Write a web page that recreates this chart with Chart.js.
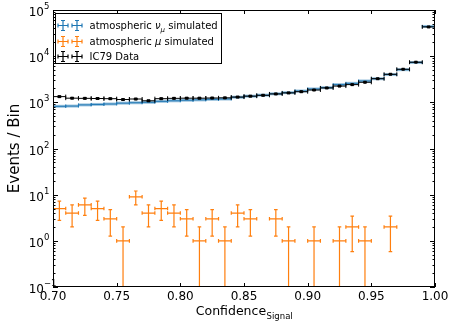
<!DOCTYPE html>
<html>
<head>
<meta charset="utf-8">
<script src="https://cdn.jsdelivr.net/npm/chart.js@4.4.0/dist/chart.umd.min.js"></script>
<style>
  html, body { margin: 0; padding: 0; background: #fff; }
</style>
</head>
<body>
<canvas id="c" width="449" height="324"></canvas>
<script>
// --- data (bin width 0.01) ---
const binCenters = [0.705, 0.715, 0.725, 0.735, 0.745, 0.755, 0.765, 0.775, 0.785, 0.795,
                    0.805, 0.815, 0.825, 0.835, 0.845, 0.855, 0.865, 0.875, 0.885, 0.895,
                    0.905, 0.915, 0.925, 0.935, 0.945, 0.955, 0.965, 0.975, 0.985, 0.995];
const binHalfWidth = 0.005;

const nuMuSim = [820, 830, 880, 900, 920, 960, 980, 1000, 1050, 1080,
                 1110, 1130, 1160, 1180, 1290, 1360, 1430, 1530, 1620, 1760,
                 1950, 2080, 2420, 2580, 2900, 3250, 4000, 5100, 7300, 44000];
const muSim = [5, 4, 6, 5, 3, 1, 9, 4, 5, 4,
               3, 1, 3, 1, 4, 3, null, 3, 1, null,
               1, null, 1, 2, 1, null, 2, null, null, null];
const ic79Data = [1330, 1230, 1220, 1210, 1200, 1150, 1180, 1080, 1200, 1220,
                  1230, 1230, 1240, 1250, 1300, 1360, 1420, 1520, 1600, 1700,
                  1850, 2050, 2250, 2420, 2720, 3250, 4050, 5200, 7400, 43000];

const xTicks = [0.70, 0.75, 0.80, 0.85, 0.90, 0.95, 1.00];
const yTickExps = [-1, 0, 1, 2, 3, 4, 5];

const FONT = 'DejaVu Sans';
const toPoints = vals => binCenters.map((x, i) => ({ x: x, y: vals[i] }));

// error bars drawn per dataset with the chart's own scales
const errorBars = {
  id: 'errorBars',
  afterDatasetDraw(chart, args) {
    const ds = chart.data.datasets[args.index];
    const xs = chart.scales.x, ys = chart.scales.y;
    const ctx = chart.ctx, a = chart.chartArea;
    ctx.save();
    ctx.beginPath();
    ctx.rect(a.left, a.top, a.right - a.left, a.bottom - a.top);
    ctx.clip();
    ds.data.forEach(p => {
      if (p.y == null) return;
      const x0 = xs.getPixelForValue(p.x - binHalfWidth);
      const x1 = xs.getPixelForValue(p.x + binHalfWidth);
      const px = xs.getPixelForValue(p.x);
      const py = ys.getPixelForValue(p.y);
      const cap = ds.capSize;
      if (ds.band) {
        ctx.strokeStyle = ds.band;
        ctx.lineWidth = 3;
        ctx.beginPath(); ctx.moveTo(x0, py); ctx.lineTo(x1, py); ctx.stroke();
      }
      ctx.strokeStyle = ds.errColor;
      ctx.lineWidth = ds.errWidth;
      ctx.beginPath();
      ctx.moveTo(x0, py); ctx.lineTo(x1, py);
      ctx.moveTo(x0, py - cap); ctx.lineTo(x0, py + cap);
      ctx.moveTo(x1, py - cap); ctx.lineTo(x1, py + cap);
      if (ds.poisson) {
        const e = Math.sqrt(p.y);
        const top = ys.getPixelForValue(p.y + e);
        const lo = p.y - e;
        const bot = lo > 0 ? ys.getPixelForValue(lo) : a.bottom + 5;
        ctx.moveTo(px, top); ctx.lineTo(px, bot);
        ctx.moveTo(px - cap, top); ctx.lineTo(px + cap, top);
        ctx.moveTo(px - cap, bot); ctx.lineTo(px + cap, bot);
      }
      ctx.stroke();
      if (ds.marker) {
        ctx.fillStyle = ds.errColor;
        ctx.fillRect(px - 1.5, py - 1.5, 3, 3);
      }
    });
    ctx.restore();
  }
};

// frame, inward ticks, y labels, x title, legend
const decorations = {
  id: 'decorations',
  afterDraw(chart) {
    const ctx = chart.ctx, a = chart.chartArea;
    const xs = chart.scales.x, ys = chart.scales.y;
    ctx.save();
    ctx.strokeStyle = '#000';
    ctx.lineWidth = 1;
    ctx.strokeRect(a.left + 0.5, a.top + 0.5, a.right - a.left - 1, a.bottom - a.top - 1);
    ctx.beginPath();
    xTicks.forEach(v => {
      const x = Math.round(xs.getPixelForValue(v)) + 0.5;
      ctx.moveTo(x, a.bottom); ctx.lineTo(x, a.bottom - 4);
      ctx.moveTo(x, a.top); ctx.lineTo(x, a.top + 4);
    });
    yTickExps.forEach(e => {
      const y = Math.round(ys.getPixelForValue(Math.pow(10, e))) + 0.5;
      ctx.moveTo(a.left, y); ctx.lineTo(a.left + 5, y);
      ctx.moveTo(a.right, y); ctx.lineTo(a.right - 5, y);
      if (e < 5) {
        for (let k = 2; k < 10; k++) {
          const ym = Math.round(ys.getPixelForValue(k * Math.pow(10, e))) + 0.5;
          ctx.moveTo(a.left, ym); ctx.lineTo(a.left + 2.5, ym);
          ctx.moveTo(a.right, ym); ctx.lineTo(a.right - 2.5, ym);
        }
      }
    });
    ctx.stroke();

    // y tick labels 10^n
    ctx.fillStyle = '#000';
    ctx.textBaseline = 'alphabetic';
    yTickExps.forEach(e => {
      const y = ys.getPixelForValue(Math.pow(10, e));
      ctx.font = '12px "' + FONT + '"';
      const w = ctx.measureText('10').width;
      ctx.textAlign = 'left';
      ctx.fillText('10', a.left - 9 - w, y + 6);
      ctx.font = '8.5px "' + FONT + '"';
      ctx.fillText(e < 0 ? '\u2212' + (-e) : String(e), a.left - 9, y - 1);
    });

    // x axis title with subscript
    ctx.font = '12.5px "' + FONT + '"';
    const main = 'Confidence';
    const mw = ctx.measureText(main).width;
    ctx.font = '8.5px "' + FONT + '"';
    const sw = ctx.measureText('Signal').width;
    const cx = (a.left + a.right) / 2;
    const x0 = cx - (mw + sw) / 2;
    ctx.font = '12.5px "' + FONT + '"';
    ctx.fillText(main, x0, 315);
    ctx.font = '8.5px "' + FONT + '"';
    ctx.fillText('Signal', x0 + mw + 0.5, 318.5);

    // legend
    const lx = a.left + 2.5, ly = a.top + 3.5;
    ctx.fillStyle = '#fff';
    ctx.fillRect(lx, ly, 166, 50);
    ctx.strokeStyle = '#000';
    ctx.strokeRect(lx, ly, 166, 50);
    const rows = [
      { color: '#1f77b4', y: ly + 12, parts: [['atmospheric ', ''], ['\u03bd', 'i'], ['\u03bc', 'sub'], [' simulated', '']] },
      { color: '#ff7f0e', y: ly + 28, parts: [['atmospheric ', ''], ['\u03bc', 'i'], [' simulated', '']] },
      { color: '#000000', y: ly + 43, parts: [['IC79 Data', '']] }
    ];
    rows.forEach(r => {
      ctx.strokeStyle = r.color;
      ctx.lineWidth = 1.2;
      ctx.beginPath();
      [lx + 7.5, lx + 21.5].forEach(hx => {
        ctx.moveTo(hx - 5, r.y); ctx.lineTo(hx + 5, r.y);
        ctx.moveTo(hx - 5, r.y - 2); ctx.lineTo(hx - 5, r.y + 2);
        ctx.moveTo(hx + 5, r.y - 2); ctx.lineTo(hx + 5, r.y + 2);
        ctx.moveTo(hx, r.y - 5); ctx.lineTo(hx, r.y + 5);
        ctx.moveTo(hx - 2, r.y - 5); ctx.lineTo(hx + 2, r.y - 5);
        ctx.moveTo(hx - 2, r.y + 5); ctx.lineTo(hx + 2, r.y + 5);
      });
      ctx.stroke();
      let tx = lx + 34;
      ctx.fillStyle = '#000';
      r.parts.forEach(([t, s]) => {
        let dy = 3.5;
        if (s === 'i') ctx.font = 'italic 10px "' + FONT + '"';
        else if (s === 'sub') { ctx.font = 'italic 7px "' + FONT + '"'; dy = 6; }
        else ctx.font = '10px "' + FONT + '"';
        ctx.fillText(t, tx, r.y + dy);
        tx += ctx.measureText(t).width;
      });
    });
    ctx.restore();
  }
};

new Chart(document.getElementById('c'), {
  type: 'scatter',
  data: {
    datasets: [
      { label: 'atmospheric \u03bd\u03bc simulated', data: toPoints(nuMuSim), order: 3,
        pointRadius: 0, errColor: '#1f77b4', band: 'rgba(31,119,180,0.45)', errWidth: 1, capSize: 1.5 },
      { label: 'atmospheric \u03bc simulated', data: toPoints(muSim), order: 2,
        pointRadius: 0, errColor: '#ff7f0e', errWidth: 1.2, capSize: 1.8, poisson: true },
      { label: 'IC79 Data', data: toPoints(ic79Data), order: 1,
        pointRadius: 0, errColor: '#000000', errWidth: 1, capSize: 2, poisson: true, marker: true }
    ]
  },
  options: {
    responsive: false,
    animation: false,
    events: [],
    devicePixelRatio: 1,
    layout: { padding: { top: 10, right: 14, left: 0, bottom: 0 } },
    plugins: { legend: { display: false }, tooltip: { enabled: false } },
    scales: {
      x: {
        type: 'linear', min: 0.7, max: 1.0,
        grid: { display: false, drawTicks: false }, border: { display: false },
        afterBuildTicks: s => { s.ticks = xTicks.map(v => ({ value: v })); },
        afterFit: s => { s.height = 37; s.paddingRight = 0; s.paddingLeft = 0; },
        ticks: { callback: v => v.toFixed(2), font: { family: FONT, size: 12 }, color: '#000', padding: 3, maxRotation: 0 }
      },
      y: {
        type: 'logarithmic', min: 0.1, max: 1e5,
        grid: { display: false, drawTicks: false }, border: { display: false },
        afterBuildTicks: s => { s.ticks = yTickExps.map(e => ({ value: Math.pow(10, e) })); },
        afterFit: s => { s.width = 53; },
        ticks: { display: false },
        title: { display: true, text: 'Events / Bin', font: { family: FONT, size: 15 }, color: '#000', padding: { top: 6, bottom: 0 } }
      }
    }
  },
  plugins: [errorBars, decorations]
});
</script>
</body>
</html>
